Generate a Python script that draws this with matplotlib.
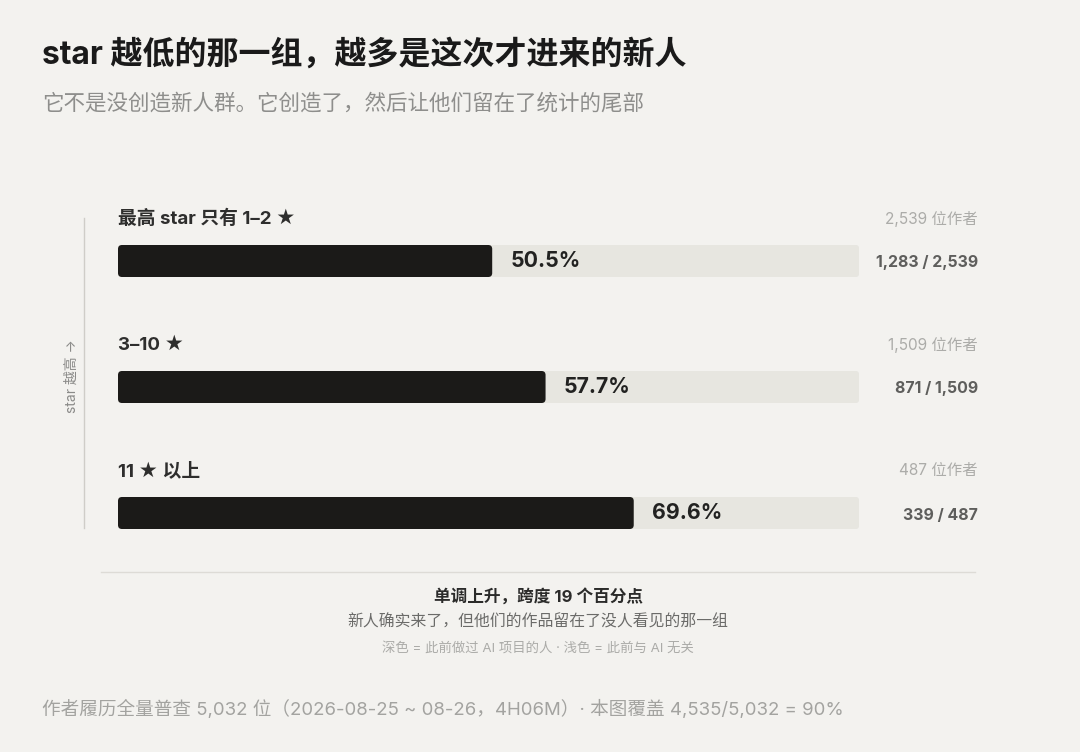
import matplotlib
matplotlib.use('Agg')
import matplotlib.pyplot as plt
from matplotlib.patches import FancyBboxPatch

# Latin glyphs from Inter, Chinese falls through to Noto CJK
plt.rcParams['font.family'] = ['Inter', 'Noto Sans CJK SC', 'DejaVu Sans']

# data
groups = ['最高 star 只有 1–2 ★', '3–10 ★', '11 ★ 以上']
new_count = [1283, 871, 339]
total_count = [2539, 1509, 487]
share = [50.5, 57.7, 69.6]

BG = '#f3f2ef'
TRACK = '#e7e6e0'
DARK = '#1b1a18'

W, H = 1080, 752
fig = plt.figure(figsize=(W / 100, H / 100), dpi=100, facecolor=BG)

# background axes in pixel coordinates for text and rules
bg = fig.add_axes([0, 0, 1, 1])
bg.set_xlim(0, W)
bg.set_ylim(H, 0)
bg.axis('off')
bg.set_facecolor(BG)

bg.text(42, 55, 'star 越低的那一组，越多是这次才进来的新人', fontsize=23,
        fontweight='bold', color='#1a1a1a', va='center', ha='left')
bg.text(42, 103, '它不是没创造新人群。它创造了，然后让他们留在了统计的尾部',
        fontsize=15.5, color='#8e8e8c', va='center', ha='left')

# left axis rule with rotated hint
bg.plot([84, 84], [218, 528], color='#cfcdc8', lw=1)
bg.text(72, 376, 'star 越高 →', rotation=90, fontsize=10, color='#8a8a88',
        va='center', ha='center')

# separator
bg.plot([101, 975], [572, 572], color='#dddbd6', lw=1)

bg.text(538, 596, '单调上升，跨度 19 个百分点', fontsize=12, fontweight='bold',
        color='#2b2b2a', va='center', ha='center')
bg.text(538, 622, '新人确实来了，但他们的作品留在了没人看见的那一组', fontsize=11.4,
        color='#6b6b69', va='center', ha='center')
bg.text(538, 648, '深色 = 此前做过 AI 项目的人 · 浅色 = 此前与 AI 无关', fontsize=9.6,
        color='#ababa8', va='center', ha='center')

bg.text(42, 709, '作者履历全量普查 5,032 位（2026-08-25 ~ 08-26，4H06M）· 本图覆盖 4,535/5,032 = 90%',
        fontsize=13.4, color='#a3a3a0', va='center', ha='left')

# bar axes: x from 118px to 978px, 100% ends at 859px
x0, x100, xr = 118, 859, 978
y_top, y_bot = 200, 540
ax = fig.add_axes([x0 / W, 1 - y_bot / H, (xr - x0) / W, (y_bot - y_top) / H])
ax.patch.set_alpha(0)
ax.axis('off')
xmax = 100 * (xr - x0) / (x100 - x0)
row_px = 126
ax.set_xlim(0, xmax)
ax.set_ylim(2 + (y_bot - 513) / row_px, -(261 - y_top) / row_px)

ypos = list(range(len(groups)))
bar_h = 32 / row_px

track = ax.barh(ypos, [100] * len(groups), height=bar_h, color=TRACK)
dark = ax.barh(ypos, share, height=bar_h, color=DARK)

# swap plain rectangles for slightly rounded ones
x_per_px = xmax / (xr - x0)
y_per_px = 1 / row_px
for bars, r in ((track, 3), (dark, 4)):
    for b in bars:
        b.set_visible(False)
        p = FancyBboxPatch((b.get_x(), b.get_y()), b.get_width(), b.get_height(),
                           boxstyle=f'round,pad=0,rounding_size={r * x_per_px}',
                           mutation_aspect=y_per_px / x_per_px,
                           fc=b.get_facecolor(), ec='none')
        ax.add_patch(p)

lab_off = 42 / row_px
for i, g in enumerate(groups):
    ax.text(0, i - lab_off, g, fontsize=13.5, fontweight='bold', color='#2e2e2d',
            va='center', ha='left')
    ax.text(xmax, i - lab_off, f'{total_count[i]:,} 位作者', fontsize=11.1,
            color='#acaca9', va='center', ha='right')
    ax.text(xmax, i + 2 / row_px, f'{new_count[i]:,} / {total_count[i]:,}', fontsize=11.4,
            fontweight='bold', color='#5e5e5c', va='center', ha='right')
    ax.text(share[i] + 18 * x_per_px, i, f'{share[i]:.1f}%', fontsize=15.3,
            fontweight='bold', color='#222221', va='center', ha='left')

fig.savefig('out.png', dpi=100, facecolor=BG)
